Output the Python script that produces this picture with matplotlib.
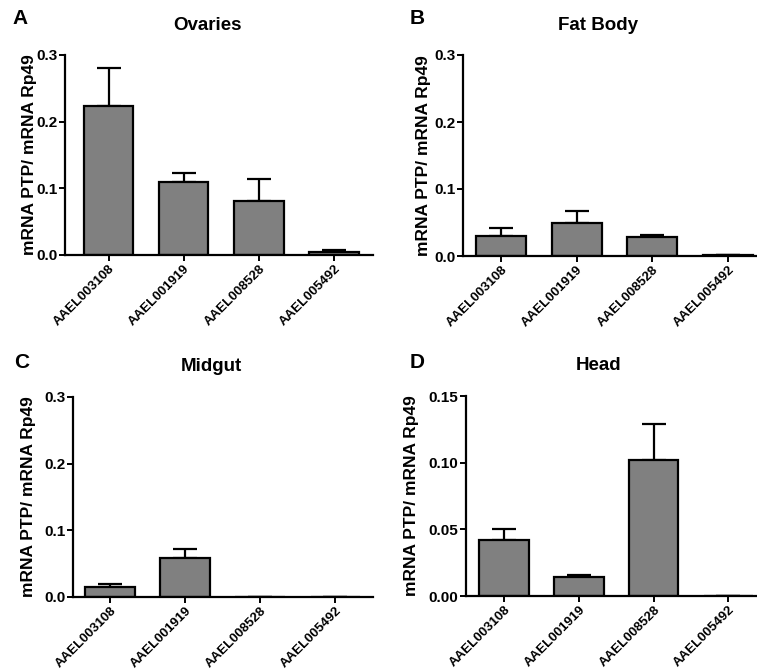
import numpy as np
import matplotlib.pyplot as plt

genes = ['AAEL003108', 'AAEL001919', 'AAEL008528', 'AAEL005492']

ovaries_mean = [0.223, 0.109, 0.081, 0.005]
ovaries_err = [0.057, 0.014, 0.033, 0.002]
fatbody_mean = [0.030, 0.050, 0.029, 0.001]
fatbody_err = [0.012, 0.017, 0.002, 0.0005]
midgut_mean = [0.015, 0.059, 0.0, 0.0]
midgut_err = [0.004, 0.013, 0.0, 0.0]
head_mean = [0.042, 0.0143, 0.102, 0.0]
head_err = [0.008, 0.0012, 0.027, 0.0]

plt.rcParams['font.family'] = ['Liberation Sans', 'DejaVu Sans']

W, H = 757, 672
fig = plt.figure(figsize=(W / 100, H / 100), dpi=100)

# panel specs: letter, title, data, pixel box (left, right, top, bottom), xlim, yticks, fmt
panels = [
    ('A', 'Ovaries', ovaries_mean, ovaries_err, (65, 373, 55, 255), (-0.58, 3.52),
     [0, 0.1, 0.2, 0.3], '%.1f', (20, 18), 37),
    ('B', 'Fat Body', fatbody_mean, fatbody_err, (463, 756, 55, 256), (-0.5, 3.37),
     [0, 0.1, 0.2, 0.3], '%.1f', (417, 18), 431),
    ('C', 'Midgut', midgut_mean, midgut_err, (73, 373, 397, 597), (-0.49, 3.5),
     [0, 0.1, 0.2, 0.3], '%.1f', (22, 363), 36),
    ('D', 'Head', head_mean, head_err, (466, 756, 396, 596), (-0.51, 3.37),
     [0, 0.05, 0.10, 0.15], '%.2f', (417, 363), 419),
]

for letter, title, mean, err, box, xlim, yticks, fmt, lpos, ylab_x in panels:
    l, r, t, b = box
    ax = fig.add_axes([l / W, 1 - b / H, (r - l) / W, (b - t) / H])
    x = np.arange(len(genes))
    ax.bar(x, mean, width=0.66, color='#808080', edgecolor='black', linewidth=1.6, zorder=2)
    ax.errorbar(x, mean, yerr=[np.zeros(len(mean)), err], fmt='none', ecolor='black',
                elinewidth=1.6, capsize=8.5, capthick=1.6, zorder=1)
    ax.set_xlim(*xlim)
    ax.set_ylim(0, yticks[-1])
    ax.set_yticks(yticks)
    ax.set_yticklabels([fmt % v for v in yticks], fontsize=11, fontweight='bold')
    ax.set_xticks(x)
    ax.set_xticklabels(genes, rotation=45, ha='right', rotation_mode='anchor',
                       fontsize=9.5, fontweight='bold')
    for side in ['top', 'right']:
        ax.spines[side].set_visible(False)
    for side in ['left', 'bottom']:
        ax.spines[side].set_linewidth(1.6)
    ax.tick_params(direction='out', length=4, width=1.4, pad=1.5)
    ax.set_ylabel('mRNA PTP/ mRNA Rp49', fontsize=12.5, fontweight='bold')
    ax.yaxis.set_label_coords((ylab_x - l) / (r - l), 0.5)
    fig.text(((l + r) / 2 - 12) / W, 1 - (t - 30) / H, title, fontsize=13.5,
             fontweight='bold', ha='center', va='center')
    fig.text(lpos[0] / W, 1 - lpos[1] / H, letter, fontsize=15, fontweight='bold',
             ha='center', va='center')

plt.savefig('out.png', dpi=100)
